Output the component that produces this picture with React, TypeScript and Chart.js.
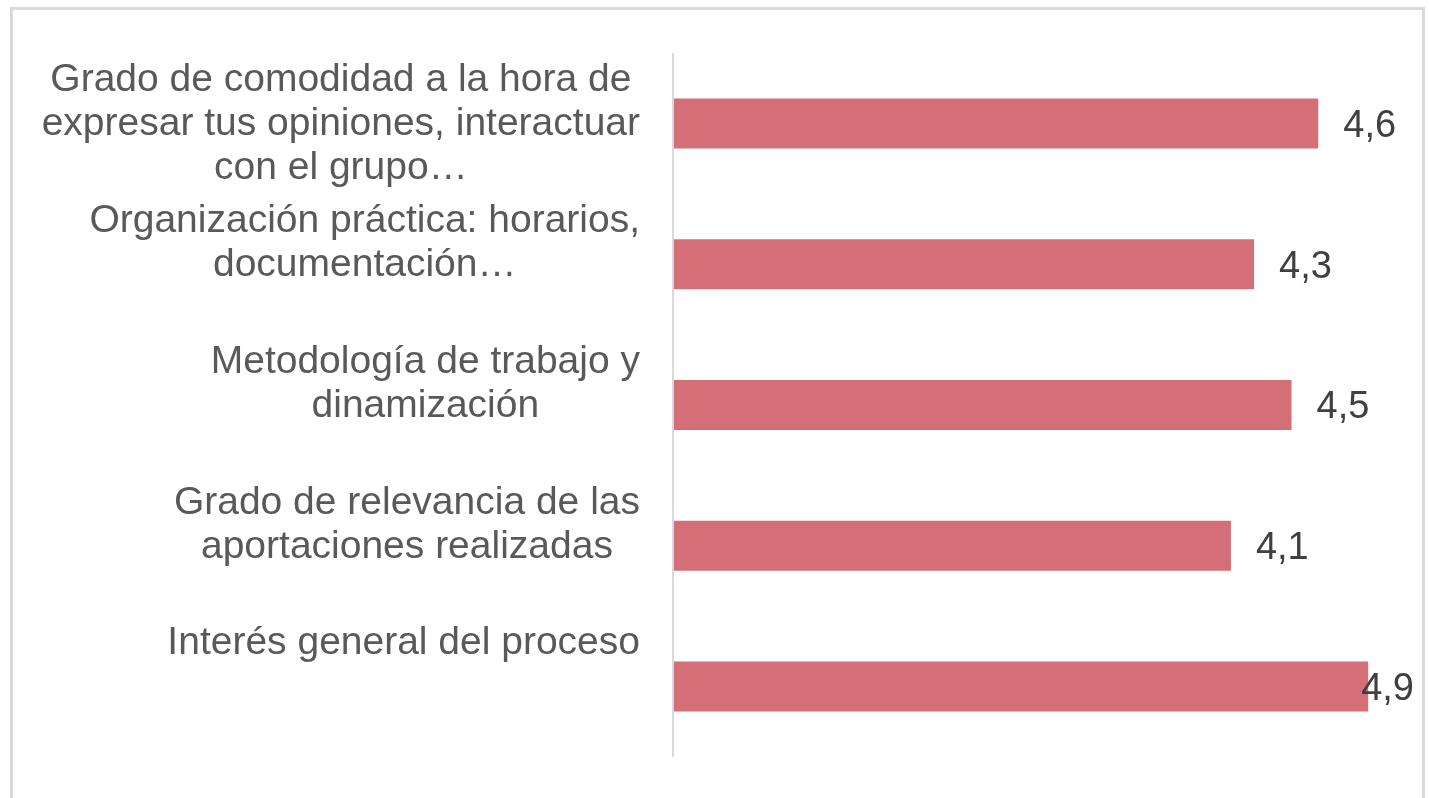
import React, { useEffect, useRef } from "react";
import { Chart, registerables } from "chart.js";

Chart.register(...registerables);

const categories: string[][] = [
  ["Grado de comodidad a la hora de", "expresar tus opiniones, interactuar", "con el grupo…"],
  ["Organización práctica: horarios,", "documentación…"],
  ["Metodología de trabajo y", "dinamización"],
  ["Grado de relevancia de las", "aportaciones realizadas"],
  ["Interés general del proceso"],
];

const values: number[] = [4.62, 4.26, 4.47, 4.13, 4.9];

const axisMin = 1;
const axisMax = 5;

const BAR_COLOR = "#D46F77";
const FONT = "Liberation Sans, Arial, sans-serif";

const labelPlugin = {
  id: "customLabels",
  afterDatasetsDraw(chart: any) {
    const ctx = chart.ctx;
    const area = chart.chartArea;
    const yScale = chart.scales.y;
    const meta = chart.getDatasetMeta(0);
    ctx.save();
    // axis line
    ctx.strokeStyle = "#D9D9D9";
    ctx.lineWidth = 2;
    ctx.beginPath();
    ctx.moveTo(area.left, area.top);
    ctx.lineTo(area.left, area.bottom);
    ctx.stroke();

    // category labels
    ctx.font = `39px ${FONT}`;
    ctx.fillStyle = "#595959";
    ctx.textAlign = "center";
    ctx.textBaseline = "middle";
    const lineH = 44;
    const rightEdge = area.left - 33;
    categories.forEach((lines, i) => {
      const c = yScale.getPixelForValue(i) + 1;
      const maxW = Math.max(...lines.map((l) => ctx.measureText(l).width));
      const cx = rightEdge - maxW / 2;
      lines.forEach((l, j) => {
        ctx.fillText(l, cx, c - lineH + j * lineH);
      });
    });

    // value labels
    ctx.font = `38px ${FONT}`;
    ctx.fillStyle = "#404040";
    ctx.textAlign = "left";
    meta.data.forEach((bar: any, i: number) => {
      const txt = values[i].toFixed(1).replace(".", ",");
      const w = ctx.measureText(txt).width;
      let x = bar.x + 25;
      const maxRight = chart.width - 15;
      if (x + w > maxRight) x = maxRight - w;
      ctx.fillText(txt, x, bar.y + 3);
    });
    ctx.restore();
  },
};

export default function App() {
  const canvasRef = useRef<HTMLCanvasElement | null>(null);

  useEffect(() => {
    if (!canvasRef.current) return;
    const chart = new Chart(canvasRef.current, {
      type: "bar",
      data: {
        labels: categories.map((c) => c.join(" ")),
        datasets: [
          {
            data: values,
            backgroundColor: BAR_COLOR,
            borderWidth: 0,
            categoryPercentage: 1,
            barPercentage: 0.355,
          },
        ],
      },
      options: {
        indexAxis: "y",
        responsive: false,
        animation: false,
        layout: { padding: { left: 673, right: 43, top: 53, bottom: 41 } },
        plugins: {
          legend: { display: false },
          tooltip: { enabled: false },
        },
        scales: {
          x: { display: false, min: axisMin, max: axisMax },
          y: { display: false },
        },
      },
      plugins: [labelPlugin],
    });
    return () => chart.destroy();
  }, []);

  return (
    <div
      style={{
        position: "fixed",
        left: 0,
        top: 0,
        width: 1429,
        height: 798,
        overflow: "hidden",
        background: "#fff",
      }}
    >
      <div
        style={{
          position: "absolute",
          left: 10,
          top: 7,
          width: 1415,
          height: 830,
          border: "3px solid #D9D9D9",
          boxSizing: "border-box",
        }}
      />
      <canvas
        ref={canvasRef}
        width={1429}
        height={798}
        style={{ position: "absolute", left: 0, top: 0, width: 1429, height: 798 }}
      />
    </div>
  );
}
